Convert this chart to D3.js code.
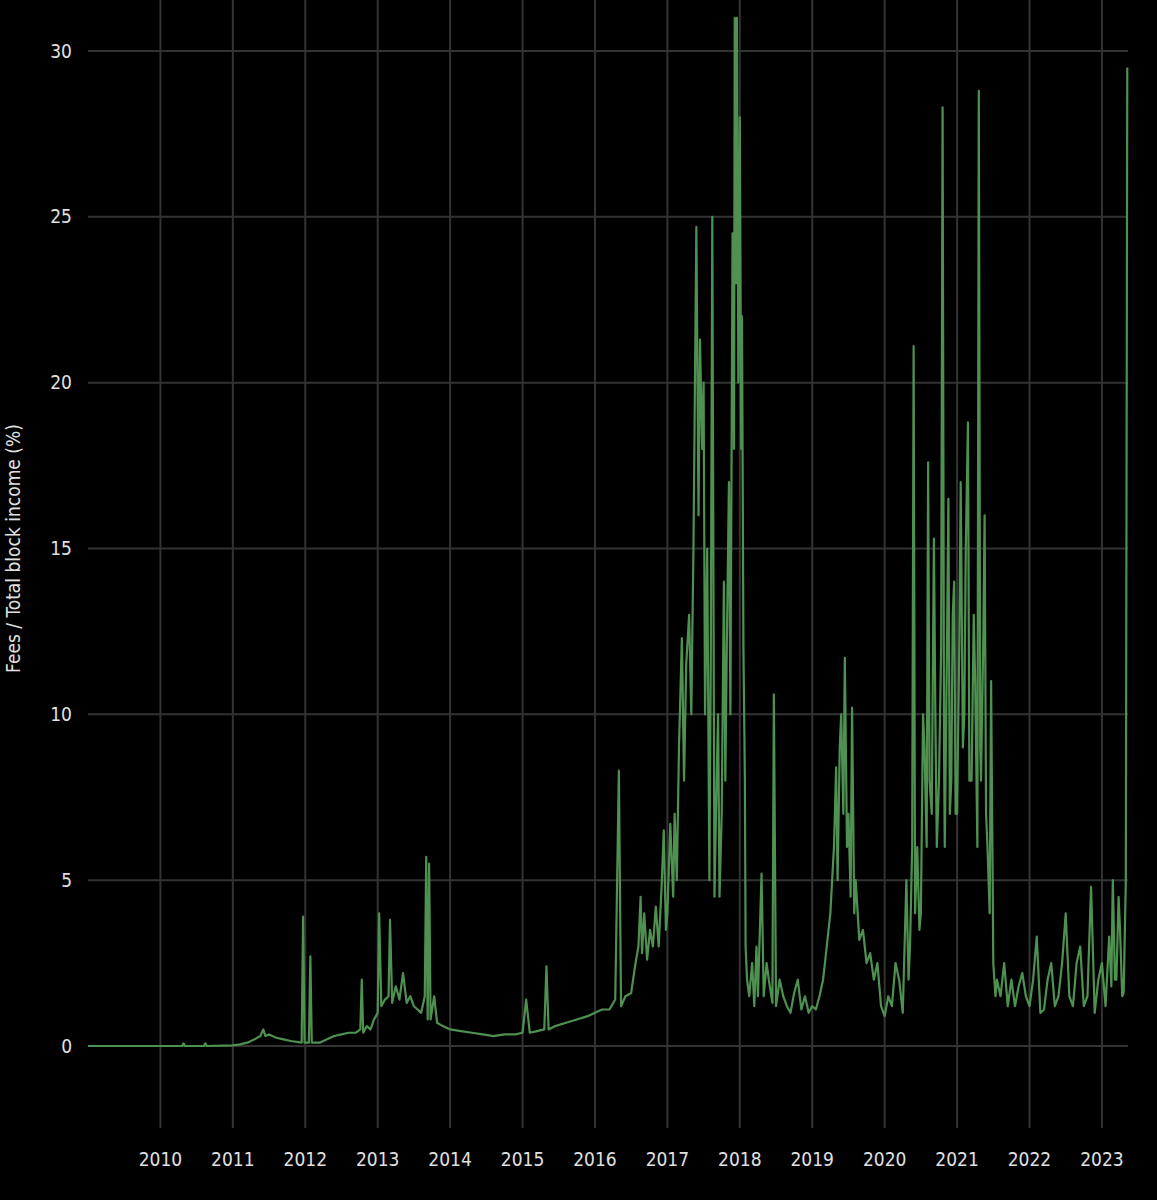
<!DOCTYPE html>
<html>
<head>
<meta charset="utf-8">
<script src="https://cdn.jsdelivr.net/npm/d3@7"></script>
<style>
  html, body { margin: 0; background: #000; }
  text { font-family: "DejaVu Sans Condensed", "Roboto Condensed", Roboto, sans-serif; }
</style>
</head>
<body>
<svg id="chart"></svg>
<script>
// Fees as share of total block income, decimal year -> percent
const years = [
  2009.0, 2009.5, 2010.0, 2010.3, 2010.32, 2010.34, 2010.6, 2010.62, 2010.64, 2011.0,
  2011.1, 2011.2, 2011.3, 2011.38, 2011.42, 2011.45, 2011.5, 2011.6, 2011.7, 2011.8,
  2011.95, 2011.97, 2011.99, 2012.05, 2012.07, 2012.09, 2012.2, 2012.3, 2012.4, 2012.5,
  2012.6, 2012.7, 2012.76, 2012.78, 2012.8, 2012.85, 2012.9, 2012.95, 2013.0, 2013.02,
  2013.05, 2013.1, 2013.15, 2013.17, 2013.2, 2013.25, 2013.3, 2013.35, 2013.4, 2013.45,
  2013.5, 2013.55, 2013.6, 2013.65, 2013.67, 2013.69, 2013.71, 2013.73, 2013.78, 2013.82,
  2013.9, 2014.0, 2014.15, 2014.3, 2014.45, 2014.6, 2014.75, 2014.9, 2015.0, 2015.05,
  2015.1, 2015.2, 2015.3, 2015.33, 2015.36, 2015.45, 2015.6, 2015.75, 2015.9, 2016.0,
  2016.1, 2016.2, 2016.28, 2016.33, 2016.36, 2016.42, 2016.5, 2016.56, 2016.6, 2016.63,
  2016.65, 2016.68, 2016.72, 2016.76, 2016.8, 2016.84, 2016.88, 2016.92, 2016.95, 2016.98,
  2017.0, 2017.04, 2017.08, 2017.1, 2017.13, 2017.16, 2017.2, 2017.23, 2017.26, 2017.3,
  2017.33, 2017.36, 2017.4, 2017.43, 2017.45, 2017.48, 2017.5, 2017.52, 2017.55, 2017.58,
  2017.6, 2017.62, 2017.65, 2017.68, 2017.7, 2017.72, 2017.75, 2017.78, 2017.8, 2017.82,
  2017.85, 2017.87, 2017.9, 2017.92, 2017.93, 2017.95, 2017.96, 2017.98, 2018.0, 2018.02,
  2018.03, 2018.05, 2018.07, 2018.08, 2018.1, 2018.13, 2018.17, 2018.2, 2018.23, 2018.25,
  2018.3, 2018.33, 2018.37, 2018.4, 2018.45, 2018.47, 2018.5, 2018.55, 2018.6, 2018.65,
  2018.7, 2018.75, 2018.8, 2018.85, 2018.9, 2018.95, 2019.0, 2019.05, 2019.1, 2019.15,
  2019.2, 2019.25, 2019.3, 2019.33, 2019.35, 2019.38, 2019.4, 2019.43, 2019.45, 2019.48,
  2019.5, 2019.53, 2019.55, 2019.58, 2019.6, 2019.65, 2019.7, 2019.75, 2019.8, 2019.85,
  2019.9, 2019.95, 2020.0, 2020.05, 2020.1, 2020.15, 2020.2, 2020.25, 2020.3, 2020.33,
  2020.35, 2020.38, 2020.4, 2020.42, 2020.45, 2020.48, 2020.5, 2020.53, 2020.55, 2020.58,
  2020.6, 2020.62, 2020.65, 2020.68, 2020.7, 2020.72, 2020.75, 2020.78, 2020.8, 2020.82,
  2020.83, 2020.86, 2020.88, 2020.9, 2020.92, 2020.94, 2020.96, 2020.98, 2021.0, 2021.03,
  2021.05, 2021.08, 2021.1, 2021.12, 2021.15, 2021.17, 2021.2, 2021.23, 2021.25, 2021.28,
  2021.3, 2021.32, 2021.33, 2021.36, 2021.38, 2021.4, 2021.42, 2021.45, 2021.47, 2021.5,
  2021.53, 2021.55, 2021.6, 2021.65, 2021.7, 2021.75, 2021.8, 2021.85, 2021.9, 2021.95,
  2022.0, 2022.05, 2022.1, 2022.15, 2022.2, 2022.25, 2022.3, 2022.35, 2022.4, 2022.45,
  2022.5, 2022.55, 2022.6, 2022.65, 2022.7, 2022.75, 2022.8, 2022.85, 2022.9, 2022.95,
  2023.0, 2023.05, 2023.1, 2023.13, 2023.15, 2023.18, 2023.2, 2023.23, 2023.25, 2023.28,
  2023.3, 2023.33, 2023.35
];
const feeShare = [
  0, 0, 0, 0, 0.08, 0, 0, 0.08, 0, 0.02,
  0.05, 0.1, 0.2, 0.3, 0.5, 0.3, 0.35, 0.25, 0.2, 0.15,
  0.1, 3.9, 0.1, 0.1, 2.7, 0.1, 0.1, 0.2, 0.3, 0.35,
  0.4, 0.4, 0.5, 2.0, 0.4, 0.6, 0.5, 0.8, 1.0, 4.0,
  1.2, 1.4, 1.5, 3.8, 1.3, 1.8, 1.4, 2.2, 1.3, 1.5,
  1.2, 1.1, 1.0, 1.5, 5.7, 0.8, 5.5, 0.8, 1.5, 0.7,
  0.6, 0.5, 0.45, 0.4, 0.35, 0.3, 0.35, 0.35, 0.4, 1.4,
  0.4, 0.45, 0.5, 2.4, 0.5, 0.6, 0.7, 0.8, 0.9, 1.0,
  1.1, 1.1, 1.4, 8.3, 1.2, 1.5, 1.6, 2.5, 3.0, 4.5,
  2.8, 4.0, 2.6, 3.5, 3.0, 4.2, 3.0, 4.8, 6.5, 3.5,
  4.0, 6.7, 4.5, 7.0, 5.0, 9.0, 12.3, 8.0, 11.5, 13.0,
  10.0, 15.0, 24.7, 16.0, 21.3, 18.0, 20.0, 10.0, 15.0, 5.0,
  12.0, 25.0, 4.5, 8.0, 10.0, 4.5, 7.0, 14.0, 8.0, 12.0,
  17.0, 10.0, 24.5, 18.0, 31.0, 23.0, 31.0, 20.0, 28.0, 18.0,
  22.0, 12.0, 8.0, 3.0, 2.0, 1.5, 2.5, 1.2, 3.0, 1.5,
  5.2, 1.5, 2.5, 2.0, 1.3, 10.6, 1.2, 2.0, 1.5, 1.2,
  1.0, 1.6, 2.0, 1.1, 1.5, 1.0, 1.2, 1.1, 1.5, 2.0,
  3.0, 4.0, 6.0, 8.4, 5.0, 9.0, 10.0, 7.0, 11.7, 6.0,
  7.0, 4.5, 10.2, 4.0, 5.0, 3.2, 3.5, 2.5, 2.8, 2.0,
  2.5, 1.2, 0.9, 1.5, 1.2, 2.5, 2.0, 1.0, 5.0, 2.0,
  3.0, 6.0, 21.1, 4.0, 6.0, 3.5, 4.0, 10.0, 9.0, 6.0,
  17.6, 8.0, 7.0, 15.3, 10.0, 6.0, 8.0, 12.0, 28.3, 9.0,
  6.0, 12.0, 16.5, 7.0, 8.0, 13.0, 14.0, 7.0, 7.0, 12.0,
  17.0, 9.0, 10.0, 15.0, 18.8, 8.0, 8.0, 13.0, 11.0, 6.0,
  28.8, 9.0, 8.0, 12.0, 16.0, 7.0, 6.0, 4.0, 11.0, 2.5,
  1.5, 2.0, 1.5, 2.5, 1.2, 2.0, 1.2, 1.8, 2.2, 1.5,
  1.2, 2.0, 3.3, 1.0, 1.1, 2.0, 2.5, 1.2, 1.5, 2.5,
  4.0, 1.5, 1.2, 2.5, 3.0, 1.2, 1.5, 4.8, 1.0, 2.0,
  2.5, 1.2, 3.3, 1.8, 5.0, 2.0, 2.0, 4.5, 3.5, 1.5,
  1.6, 5.0, 29.5
];
const yTicks = [0, 5, 10, 15, 20, 25, 30];
const xTicks = [2010, 2011, 2012, 2013, 2014, 2015, 2016, 2017, 2018, 2019, 2020, 2021, 2022, 2023];

const width = 1157, height = 1200;
const svg = d3.select("#chart").attr("width", width).attr("height", height);

const x = d3.scaleLinear().domain([2009, 2023.36]).range([88, 1128]);
const y = d3.scaleLinear().domain([0, 30]).range([1046, 51]);

// grid
svg.append("g").selectAll("line").data(xTicks).join("line")
  .attr("x1", d => x(d)).attr("x2", d => x(d))
  .attr("y1", 0).attr("y2", 1128)
  .attr("stroke", "#333").attr("stroke-width", 2);
svg.append("g").selectAll("line").data(yTicks).join("line")
  .attr("x1", 88).attr("x2", 1128)
  .attr("y1", d => y(d)).attr("y2", d => y(d))
  .attr("stroke", "#333").attr("stroke-width", 2);

// tick labels
svg.append("g").selectAll("text").data(yTicks).join("text")
  .attr("x", 72).attr("y", d => y(d)).attr("dy", "0.35em")
  .attr("text-anchor", "end").attr("fill", "#e0e0e0").attr("font-size", 19)
  .text(d => d);
svg.append("g").selectAll("text").data(xTicks).join("text")
  .attr("x", d => x(d)).attr("y", 1166)
  .attr("text-anchor", "middle").attr("fill", "#e0e0e0").attr("font-size", 19)
  .text(d => d);

svg.append("text")
  .attr("transform", "translate(20," + y(15) + ") rotate(-90)")
  .attr("text-anchor", "middle").attr("fill", "#e0e0e0").attr("font-size", 19)
  .text("Fees / Total block income (%)");

// line
const line = d3.line().x((d, i) => x(years[i])).y(d => y(d));
svg.append("path")
  .datum(feeShare)
  .attr("d", line)
  .attr("fill", "none")
  .attr("stroke", "#4f9150")
  .attr("stroke-width", 2.2)
  .attr("stroke-linejoin", "round");
</script>
</body>
</html>
